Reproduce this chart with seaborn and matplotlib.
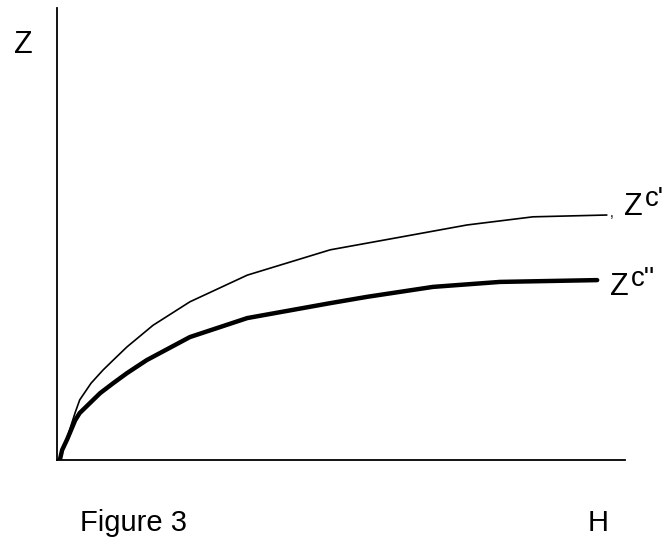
import numpy as np
import pandas as pd
import seaborn as sns
import matplotlib
matplotlib.use("Agg")
import matplotlib.pyplot as plt

# Zc' and Zc'' curves (H and Z in arbitrary units, 0-100)
h_upper = [0.5, 0.9, 1.8, 3.2, 4.0, 6.0, 8.1, 9.9, 12.3, 16.9, 23.4, 33.5, 48.1, 60.4, 72.2, 83.8, 96.8]
z_upper = [0.0, 2.2, 5.0, 10.5, 13.3, 17.0, 19.9, 22.1, 25.0, 29.8, 35.0, 40.9, 46.5, 49.3, 52.0, 53.8, 54.2]

h_lower = [0.5, 0.9, 1.8, 3.2, 4.0, 7.6, 9.9, 12.3, 15.8, 23.4, 33.5, 48.1, 54.6, 66.2, 78.0, 95.1]
z_lower = [0.0, 2.2, 4.6, 8.8, 10.4, 14.8, 17.0, 19.2, 22.1, 27.2, 31.4, 34.7, 36.1, 38.3, 39.4, 39.8]

df_up = pd.DataFrame({"H": h_upper, "Z": z_upper})
df_low = pd.DataFrame({"H": h_lower, "Z": z_lower})

sns.set_style("white")
plt.rcParams["font.family"] = ["Liberation Sans", "DejaVu Sans"]
plt.rcParams["text.color"] = "black"

fig = plt.figure(figsize=(6.72, 5.38), dpi=100)
ax = fig.add_axes([57 / 672, 1 - 460 / 538, (625 - 57) / 672, (460 - 8) / 538])

sns.lineplot(data=df_up, x="H", y="Z", ax=ax, color="black", lw=1.2,
             sort=False, solid_capstyle="round", solid_joinstyle="round")
sns.lineplot(data=df_low, x="H", y="Z", ax=ax, color="black", lw=3.2,
             sort=False, solid_capstyle="round", solid_joinstyle="round")

ax.set_xlim(0, 100)
ax.set_ylim(0, 100)
ax.set_xticks([])
ax.set_yticks([])
ax.set_xlabel("")
ax.set_ylabel("")
for s in ["top", "right"]:
    ax.spines[s].set_visible(False)
for s in ["left", "bottom"]:
    ax.spines[s].set_color("black")
    ax.spines[s].set_linewidth(1.3)

# labels at the curve ends (offsets in pixels)
fs = 22


def end_label(x, y, dx, dy, sup):
    ax.annotate("Z", (x, y), xytext=(dx, dy), textcoords="offset pixels",
                fontsize=fs, ha="left", va="baseline", annotation_clip=False)
    ax.annotate(sup, (x, y), xytext=(dx + 21, dy + 9), textcoords="offset pixels",
                fontsize=fs * 0.9, ha="left", va="baseline", annotation_clip=False)


end_label(h_upper[-1], z_upper[-1], 17, 0, "c'")
end_label(h_lower[-1], z_lower[-1], 13, -15, "c''")
ax.annotate(",", (h_upper[-1], z_upper[-1]), xytext=(3, -2), textcoords="offset pixels",
            fontsize=10, ha="left", va="baseline", annotation_clip=False)

fig.text(23 / 672, 1 - 45 / 538, "Z", fontsize=fs, ha="center", va="center")
fig.text(598 / 672, 1 - 531 / 538, "H", fontsize=21, ha="center", va="baseline")
fig.text(80 / 672, 1 - 531 / 538, "Figure 3", fontsize=21, ha="left", va="baseline")

fig.savefig("out.png", dpi=100)
